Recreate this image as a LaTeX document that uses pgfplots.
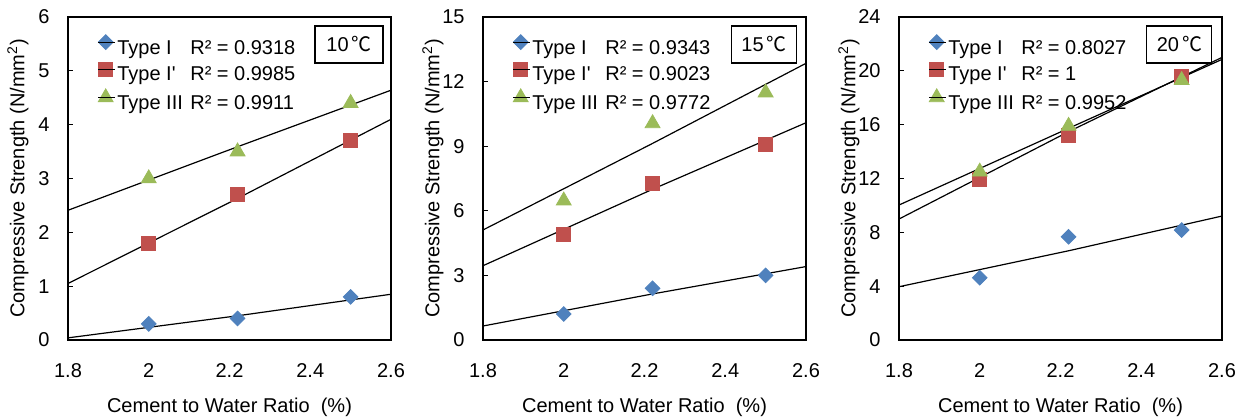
\documentclass[border=0pt]{standalone}
\usepackage{pgfplots}
\pgfplotsset{compat=1.18}
\usepackage{fontspec}
\setmainfont{Liberation Sans}
\newfontfamily\cjk{Noto Sans CJK SC}
\definecolor{cI}{HTML}{4F81BD}
\definecolor{cII}{HTML}{C0504D}
\definecolor{cIII}{HTML}{9BBB59}
\newcommand{\f}{\fontsize{10}{12}\selectfont}
\pgfplotsset{myax/.style={
  scale only axis, width=161.5pt, height=161.5pt,
  xmin=1.8, xmax=2.6, ymin=0,
  xtick={1.8,2,2.2,2.4,2.6},
  axis line style={line width=0.9pt},
  tick align=inside, major tick length=2.5pt,
  ytick style={black, line width=0.6pt},
  xtick style={draw=none},
  ytick pos=left, xtick pos=bottom,
  /pgf/number format/assume math mode=true,
  ticklabel style={font=\f},
  xticklabel style={yshift=-8.2pt},
  yticklabel style={xshift=-5.7pt},
  every axis y label/.style={at={(rel axis cs:-0.155,0.5)}, rotate=90, anchor=center, font=\f},
  every axis x label/.style={at={(rel axis cs:0.5,-0.207)}, anchor=center, font=\f},
  xlabel={Cement to Water Ratio\ \ (\%)},
  ylabel={Compressive Strength (N/mm\textsuperscript{2})},
  legend image code/.code={\draw[##1] plot coordinates {(0pt,3.2pt)}; \path (-3.8pt,3.2pt) -- (4.6pt,3.2pt);},
  legend cell align=left,
  legend style={at={(rel axis cs:0.092,0.945)}, anchor=north west, draw=none, fill=none,
    inner sep=0pt, outer sep=0pt, font=\f, row sep=1.5pt,
    nodes={inner sep=1pt}},
  tI/.style={only marks, mark=square*, mark size=2.6pt, mark options={rotate=45, fill=cI, draw=cI}},
  tII/.style={only marks, mark=square*, mark size=3.5pt, mark options={fill=cII, draw=cII}},
  tIII/.style={only marks, mark=triangle*, mark size=4.3pt, mark options={fill=cIII, draw=cIII}},
  trend/.style={black, line width=0.6pt, no marks, forget plot},
}}
\newcommand{\lab}[1]{\makebox[36.5pt][l]{#1}}
\newcommand{\tempc}[1]{#1\hspace{1.5pt}{\cjk ℃}}
\begin{document}
\begin{tikzpicture}
\useasboundingbox (0,0) rectangle (623pt,209.5pt);
% Panel 1: 10 C
\begin{axis}[myax, at={(34pt,39.5pt)}, anchor=south west, ymax=6, ytick={0,1,2,3,4,5,6}]
\addplot[tI] coordinates {(2.0,0.30) (2.22,0.40) (2.5,0.80)};
\addlegendentry{\lab{Type I}R² = 0.9318}
\addplot[tII] coordinates {(2.0,1.80) (2.22,2.70) (2.5,3.70)};
\addlegendentry{\lab{Type I\textquotesingle}R² = 0.9985}
\addplot[tIII] coordinates {(2.0,3.00) (2.22,3.50) (2.5,4.40)};
\addlegendentry{\lab{Type III}R² = 0.9911}
\addplot[trend] coordinates {(1.8,0.04) (2.22,0.45) (2.6,0.85)};
\addplot[trend] coordinates {(1.8,1.05) (2.22,2.63) (2.6,4.10)};
\addplot[trend] coordinates {(1.8,2.41) (2.22,3.59) (2.6,4.64)};
\node[draw, line width=0.6pt, minimum width=34pt, minimum height=18.5pt, inner sep=0pt, font=\f] at (rel axis cs:0.87,0.915) {\tempc{10}};
\end{axis}
% Panel 2: 15 C
\begin{axis}[myax, at={(241.5pt,39.5pt)}, anchor=south west, ymax=15, ytick={0,3,6,9,12,15}]
\addplot[tI] coordinates {(2.0,1.21) (2.22,2.40) (2.5,3.00)};
\addlegendentry{\lab{Type I}R² = 0.9343}
\addplot[tII] coordinates {(2.0,4.89) (2.22,7.28) (2.5,9.10)};
\addlegendentry{\lab{Type I\textquotesingle}R² = 0.9023}
\addplot[tIII] coordinates {(2.0,6.47) (2.22,10.06) (2.5,11.49)};
\addlegendentry{\lab{Type III}R² = 0.9772}
\addplot[trend] coordinates {(1.8,0.65) (2.22,2.14) (2.6,3.41)};
\addplot[trend] coordinates {(1.8,3.45) (2.22,7.00) (2.6,10.09)};
\addplot[trend] coordinates {(1.8,5.11) (2.22,9.13) (2.6,12.85)};
\node[draw, line width=0.6pt, minimum width=32.5pt, minimum height=18.5pt, inner sep=0pt, font=\f] at (rel axis cs:0.87,0.915) {\tempc{15}};
\end{axis}
% Panel 3: 20 C
\begin{axis}[myax, at={(449.5pt,39.5pt)}, anchor=south west, ymax=24, ytick={0,4,8,12,16,20,24}]
\addplot[tI] coordinates {(2.0,4.63) (2.22,7.67) (2.5,8.17)};
\addlegendentry{\lab{Type I}R² = 0.8027}
\addplot[tII] coordinates {(2.0,11.96) (2.22,15.23) (2.5,19.56)};
\addlegendentry{\lab{Type I\textquotesingle}R² = 1}
\addplot[tIII] coordinates {(2.0,12.50) (2.22,15.90) (2.5,19.30)};
\addlegendentry{\lab{Type III}R² = 0.9952}
\addplot[trend] coordinates {(1.8,3.96) (2.22,6.63) (2.6,9.21)};
\addplot[trend] coordinates {(1.8,8.99) (2.22,15.48) (2.6,21.00)};
\addplot[trend] coordinates {(1.8,10.03) (2.22,15.73) (2.6,20.85)};
\node[draw, line width=0.6pt, minimum width=32.5pt, minimum height=18.5pt, inner sep=0pt, font=\f] at (rel axis cs:0.868,0.915) {\tempc{20}};
\end{axis}
\end{tikzpicture}
\end{document}
